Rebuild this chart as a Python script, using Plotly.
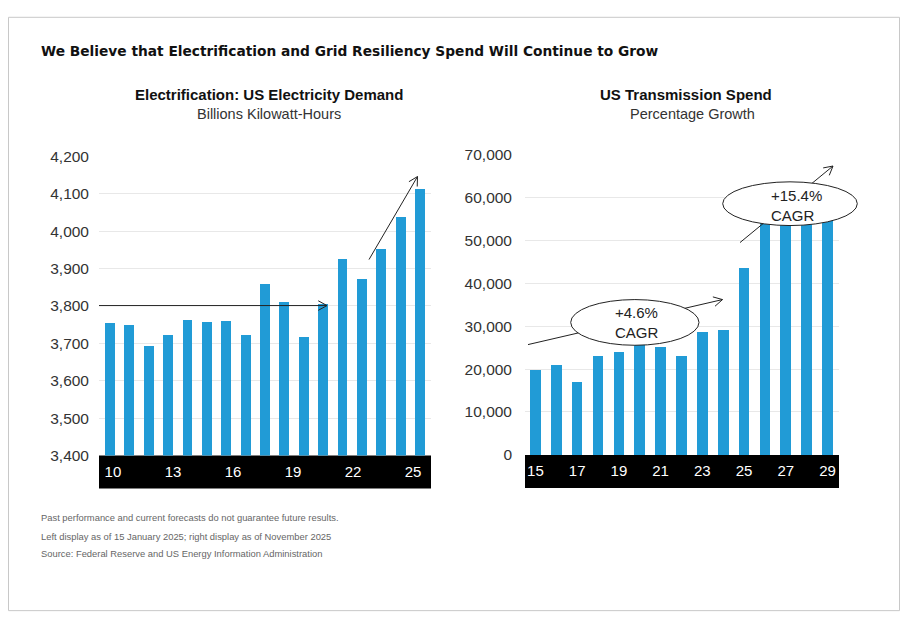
import math
import plotly.graph_objects as go

# left panel: US electricity demand, billions kWh (20xx)
demand_years = list(range(10, 27))
demand = [3753, 3748, 3693, 3722, 3763, 3757, 3760, 3722, 3857,
          3809, 3715, 3804, 3926, 3872, 3952, 4037, 4112]
demand_ticks = [10, 13, 16, 19, 22, 25]

# right panel: US transmission spend (20xx)
spend_years = list(range(15, 30))
spend = [20000, 21100, 17000, 23200, 24100, 27000, 25200, 23200,
         28800, 29200, 43600, 57000, 58500, 60000, 61000]
spend_ticks = [15, 17, 19, 21, 23, 25, 27, 29]

BLUE = "#219bd6"
W, H = 892, 612
FONT = "Liberation Sans"
TITLE_FONT = "DejaVu Sans"

# positions below are given in screenshot pixels; the page offsets the
# figure by 8px horizontally and the capture squeezes it a little vertically
SQ, TOP = 0.972, 18


def px(x):
    return (x - 8) / W


def py(y):
    return 1 - (y / SQ - TOP) / H


def seg(x0, y0, x1, y1, color="#222", width=1):
    return dict(type="line", xref="paper", yref="paper",
                x0=px(x0), y0=py(y0), x1=px(x1), y1=py(y1),
                line=dict(color=color, width=width), layer="above")


def arrow(x0, y0, x1, y1, head=10, spread=0.5):
    ang = math.atan2(y1 - y0, x1 - x0)
    out = [seg(x0, y0, x1, y1)]
    for s in (1, -1):
        a = ang + math.pi + s * spread
        out.append(seg(x1, y1, x1 + head * math.cos(a), y1 + head * math.sin(a)))
    return out


def rect(x0, y0, x1, y1, fill, line=None, layer="below"):
    return dict(type="rect", xref="paper", yref="paper",
                x0=px(x0), y0=min(py(y0), 0.9995), x1=px(x1), y1=py(y1),
                fillcolor=fill, line=dict(color=line or fill, width=1 if line else 0),
                layer=layer)


def ellipse(x0, y0, x1, y1):
    return dict(type="circle", xref="paper", yref="paper",
                x0=px(x0), y0=py(y0), x1=px(x1), y1=py(y1),
                fillcolor="white", line=dict(color="#222", width=1), layer="above")


fig = go.Figure()
fig.add_trace(go.Bar(x=demand_years, y=demand, width=0.51,
                     marker=dict(color=BLUE, line=dict(width=0)),
                     xaxis="x", yaxis="y", hoverinfo="x+y"))
fig.add_trace(go.Bar(x=spend_years, y=spend, width=0.51,
                     marker=dict(color=BLUE, line=dict(width=0)),
                     xaxis="x2", yaxis="y2", hoverinfo="x+y"))

xcommon = dict(showgrid=False, zeroline=False, showline=False, ticks="",
               tickfont=dict(family=FONT, size=15, color="white"),
               ticklabelstandoff=5, fixedrange=True)
ycommon = dict(showgrid=True, gridcolor="#e8e8e8", gridwidth=1, zeroline=False,
               showline=False, ticks="", tickformat=",",
               tickfont=dict(family=FONT, size=15.5, color="#333"), fixedrange=True)

shapes = [
    rect(8.5, 8.5, 899.5, 611, "rgba(0,0,0,0)", line="#c8c8c8", layer="below"),
    rect(99, 456, 431, 489, "black"),
    rect(525, 455.3, 839, 488.5, "black"),
]
shapes += arrow(99, 306, 327, 306)
shapes += arrow(369, 260, 417.5, 177)
shapes += arrow(528, 345, 722.5, 300)
shapes += arrow(740, 243, 833, 166.5)
shapes += [ellipse(570.7, 300, 699, 345.7), ellipse(722.7, 182.3, 857.3, 226)]

annotations = [
    dict(text="<b>We Believe that Electrification and Grid Resiliency Spend Will Continue to Grow</b>",
         x=px(38.5), y=py(51), xanchor="left",
         font=dict(family=TITLE_FONT, size=13.75, color="#111")),
    dict(text="<b>Electrification: US Electricity Demand</b>", x=px(268.5), y=py(95),
         xanchor="center", font=dict(family=FONT, size=15, color="#111")),
    dict(text="Billions Kilowatt-Hours", x=px(269), y=py(114), xanchor="center",
         font=dict(family=FONT, size=14.5, color="#333")),
    dict(text="<b>US Transmission Spend</b>", x=px(686), y=py(95), xanchor="center",
         font=dict(family=FONT, size=15, color="#111")),
    dict(text="Percentage Growth", x=px(692), y=py(114), xanchor="center",
         font=dict(family=FONT, size=14.5, color="#333")),
    dict(text="+4.6%<br>CAGR", x=px(613), y=py(323), xanchor="left", align="left",
         font=dict(family=FONT, size=15, color="#222")),
    dict(text="+15.4%<br>CAGR", x=px(769), y=py(205.5), xanchor="left", align="left",
         font=dict(family=FONT, size=15, color="#222")),
    dict(text="Past performance and current forecasts do not guarantee future results.",
         x=px(38.5), y=py(517.5), xanchor="left", font=dict(family=FONT, size=9.4, color="#666")),
    dict(text="Left display as of 15 January 2025; right display as of November 2025",
         x=px(38.5), y=py(536.5), xanchor="left", font=dict(family=FONT, size=9.4, color="#666")),
    dict(text="Source: Federal Reserve and US Energy Information Administration",
         x=px(38.5), y=py(553.5), xanchor="left", font=dict(family=FONT, size=9.4, color="#666")),
]
for a in annotations:
    a.update(xref="paper", yref="paper", showarrow=False, yanchor="middle")

fig.update_layout(
    width=W, height=H,
    margin=dict(l=0, r=0, t=0, b=0),
    paper_bgcolor="white", plot_bgcolor="white",
    showlegend=False, bargap=0,
    xaxis=dict(xcommon, domain=[px(99), px(431)], anchor="y", range=[9.43, 26.57],
               tickvals=[y + 0.15 + (y - 10) * 0.033 for y in demand_ticks],
               ticktext=[str(y) for y in demand_ticks]),
    yaxis=dict(ycommon, domain=[py(456), py(156.7)], anchor="x", range=[3400, 4200],
               dtick=100, ticklabelstandoff=9),
    xaxis2=dict(xcommon, domain=[px(525), px(839)], anchor="y2", range=[14.5, 29.55],
                tickvals=spend_ticks, ticktext=[str(y) for y in spend_ticks]),
    yaxis2=dict(ycommon, domain=[py(455.3), py(155)], anchor="x2", range=[0, 70000],
                dtick=10000, ticklabelstandoff=12),
    shapes=shapes,
    annotations=annotations,
)

fig.write_html("out.html")
